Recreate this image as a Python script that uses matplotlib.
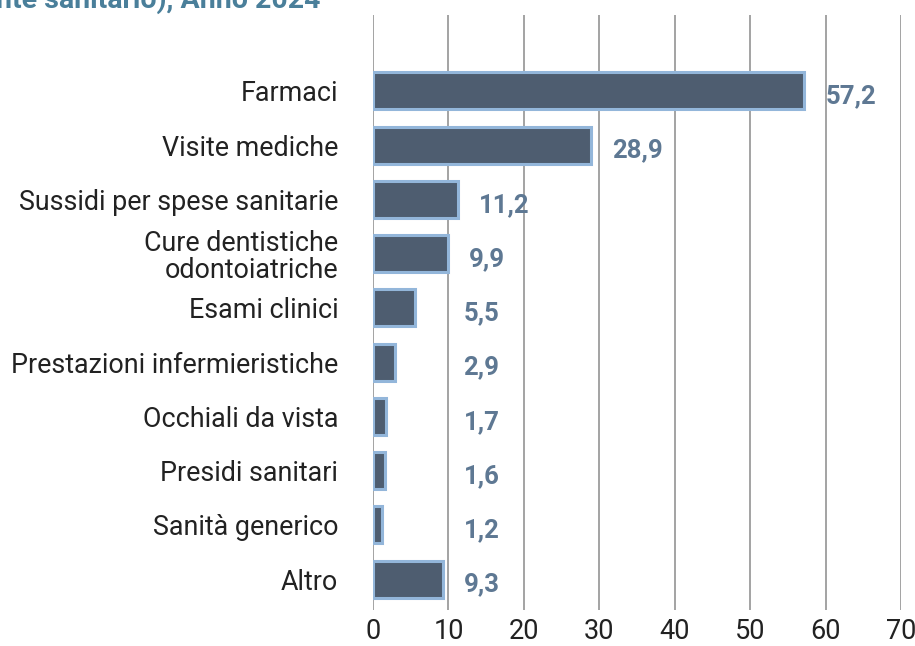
import matplotlib
matplotlib.use("Agg")
import matplotlib.pyplot as plt

categories = ["Farmaci", "Visite mediche", "Sussidi per spese sanitarie",
              "Cure dentistiche\nodontoiatriche", "Esami clinici",
              "Prestazioni infermieristiche", "Occhiali da vista",
              "Presidi sanitari", "Sanità generico", "Altro"]
values = [57.2, 28.9, 11.2, 9.9, 5.5, 2.9, 1.7, 1.6, 1.2, 9.3]
value_labels = ["57,2", "28,9", "11,2", "9,9", "5,5", "2,9", "1,7", "1,6", "1,2", "9,3"]
xticks = [0, 10, 20, 30, 40, 50, 60, 70]

plt.rcParams['font.family'] = ['Roboto', 'DejaVu Sans']

fig = plt.figure(figsize=(9.15, 6.46), dpi=100)
ax = fig.add_axes([0.4077, 0.0557, 0.577, 0.9213])

ypos = list(range(len(categories)))
ax.barh(ypos, values, height=0.68, color="#4e5d70", edgecolor="#93b6da", linewidth=2.2, zorder=3)

for y, v, lab in zip(ypos, values, value_labels):
    x = max(v, 9.2) + 2.8
    ax.text(x, y + 0.1, lab, ha="left", va="center", fontsize=18.5, fontweight="bold",
            color="#5e7893", zorder=4)

ax.set_xlim(0, 70)
ax.set_ylim(9 + 0.57, -1.4)
ax.set_xticks(xticks)
ax.set_xticklabels([str(t) for t in xticks], fontsize=19.5, color="#222222")
ax.set_yticks(ypos)
ax.set_yticklabels(categories, fontsize=19.4, color="#222222", linespacing=1.0)
ax.tick_params(axis="y", length=0, pad=25)
ax.tick_params(axis="x", length=0, pad=6)
for s in ax.spines.values():
    s.set_visible(False)
ax.grid(axis="x", color="#8a8a8a", linewidth=1.1, zorder=0)
ax.set_axisbelow(True)

fig.text(-0.004, 0.988, "nte sanitario), Anno 2024", ha="left", va="baseline",
         fontsize=20.5, fontweight="bold", color="#4a7f9a")

fig.savefig("out.png", dpi=100)
